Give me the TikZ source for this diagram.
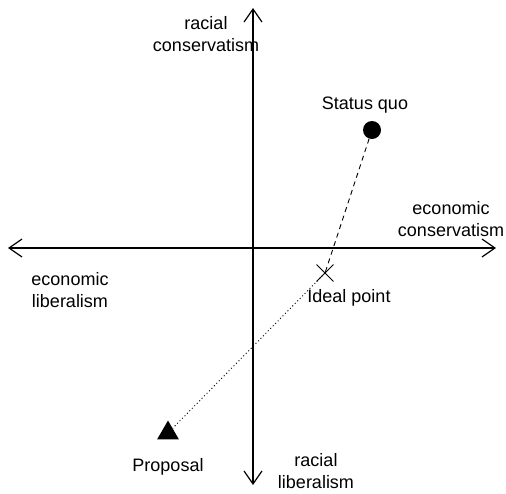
\documentclass[tikz,border=0pt]{standalone}
\usepackage{fontspec}
\setmainfont{Liberation Sans}
\usetikzlibrary{arrows.meta, shapes.geometric, shapes.misc}
\tikzset{
  axislabel/.style={align=center, inner sep=0pt, font=\fontsize{18}{22.5}\selectfont},
  pointlabel/.style={inner sep=0pt, font=\fontsize{18}{22.5}\selectfont},
}
\begin{document}
\begin{tikzpicture}[x=1pt, y=-1pt, >={Straight Barb[length=13pt,width=18pt]}]
  \useasboundingbox (0,0) rectangle (506,493);
  \coordinate (econleft) at (8,248);
  \coordinate (econright) at (496,248);
  \coordinate (racetop) at (253,8);
  \coordinate (racebottom) at (253,485);
  \draw[<->, line width=1.2pt] (econleft) -- (econright);
  \draw[<->, line width=1.2pt] (racetop) -- (racebottom);
  \node[axislabel] (rc) at (206,34) {racial\\conservatism};
  \node[axislabel] (rl) at (316,471) {racial\\liberalism};
  \node[axislabel] (ec) at (451,219) {economic\\conservatism};
  \node[axislabel] (el) at (70,290) {economic\\liberalism};
  \node[circle, fill, minimum size=18pt, inner sep=0pt] (sq) at (372,130) {};
  \node[cross out, draw, minimum size=16pt, inner sep=0pt, line width=0.9pt] (ideal) at (325,273) {};
  \node[regular polygon, regular polygon sides=3, fill, minimum size=25pt, inner sep=0pt] (prop) at (168,433) {};
  \node[pointlabel] (sqlabel) at (365,105) {Status quo};
  \node[pointlabel] (ideallabel) at (349,298) {Ideal point};
  \node[pointlabel] (proplabel) at (168,467) {Proposal};
  \draw[dash pattern=on 5pt off 4pt, line width=0.9pt] (sq) -- (ideal.center);
  \draw[dash pattern=on 1pt off 2.5pt, line width=0.9pt] (ideal.center) -- (prop);
\end{tikzpicture}
\end{document}
